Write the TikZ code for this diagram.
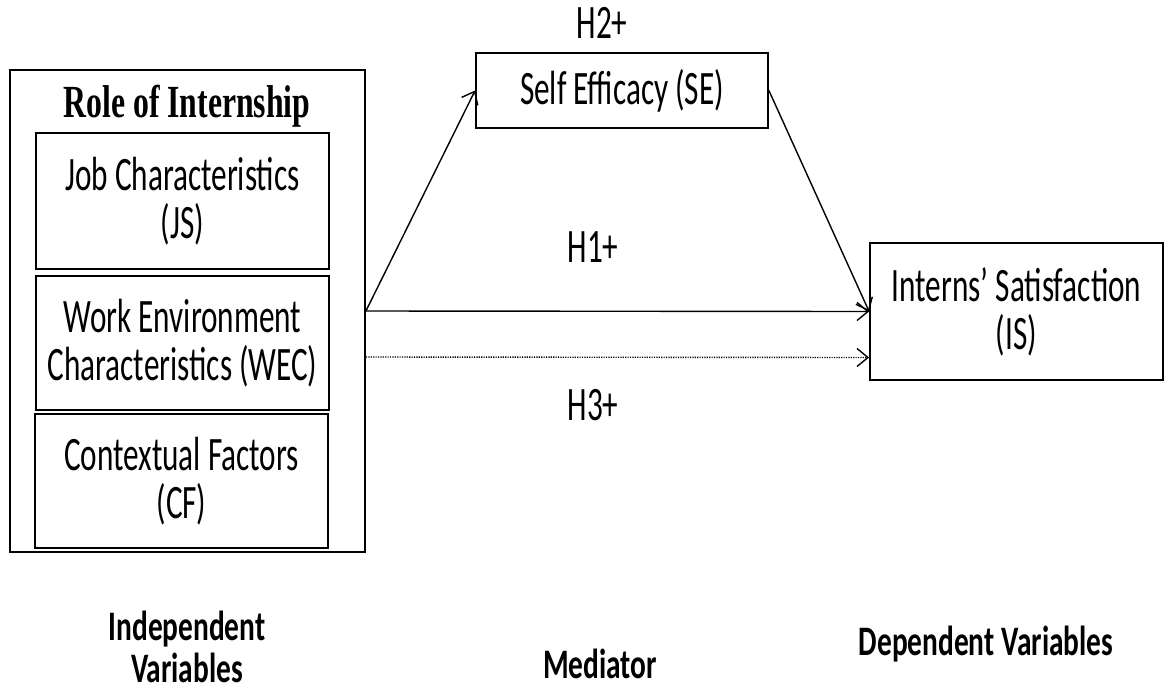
\documentclass[tikz,border=0pt]{standalone}
\usepackage{fontspec}
\setmainfont{Carlito}
\newfontfamily\cf[FakeStretch=0.65]{Carlito}
\newfontfamily\cfb[FakeStretch=0.7]{Carlito}
\newfontfamily\tf[FakeStretch=0.69]{Liberation Serif}
\usetikzlibrary{arrows.meta}
\begin{document}
\begin{tikzpicture}[x=1pt,y=-1pt,
  boxst/.style={draw=black,line width=1.8pt,inner sep=0pt,align=center,
    font=\cf\fontsize{48}{48}\selectfont},
  txt/.style={inner sep=0pt,align=center,font=\cf\fontsize{48}{48}\selectfont},
  btxt/.style={inner sep=0pt,align=center,font=\cfb\bfseries\fontsize{42}{42}\selectfont},
  conn/.style={line width=1.4pt,-{Straight Barb[length=11pt,width=18pt,line width=1.4pt]}},
  dotconn/.style={line width=1.4pt,dash pattern=on 1.2pt off 1.2pt,
    -{Straight Barb[length=11pt,width=18pt,line width=1.4pt]}}
]
\useasboundingbox (0,0) rectangle (1164,694);
% left group
\node[boxst,minimum width=355pt,minimum height=482pt] (outer) at (187.5,311) {};
\node[inner sep=0pt,font=\tf\bfseries\fontsize{46}{46}\selectfont] (title) at (187,106) {Role of Internship};
\node[boxst,minimum width=293pt,minimum height=136pt] (js) at (182.5,201) {Job Characteristics\\(JS)};
\node[boxst,minimum width=293pt,minimum height=134pt] (wec) at (182.5,343) {Work Environment\\Characteristics (WEC)};
\node[boxst,minimum width=293pt,minimum height=134pt] (cf) at (181.5,481) {Contextual Factors\\(CF)};
% mediator and outcome
\node[boxst,minimum width=292pt,minimum height=75pt] (se) at (622,90.5) {Self Efficacy (SE)};
\node[boxst,minimum width=293pt,minimum height=137pt] (is) at (1016.5,311.5) {Interns’ Satisfaction\\(IS)};
% hypothesis labels
\node[txt] (h2) at (602,23) {H2+};
\node[txt] (h1) at (593,247) {H1+};
\node[txt] (h3) at (593,405) {H3+};
% connectors
\draw[conn] (outer.east) -- (se.west);
\draw[conn] (se.east) -- (is.west);
\draw[conn] (outer.east) -- (is.west);
\draw[dotconn] ([yshift=-46pt]outer.east) -- ([yshift=-46pt]is.west);
% bottom labels
\node[btxt] (iv) at (187,647) {Independent\\Variables};
\node[btxt] (med) at (600,664) {Mediator};
\node[btxt] (dv) at (986,644) {Dependent Variables};
\end{tikzpicture}
\end{document}
